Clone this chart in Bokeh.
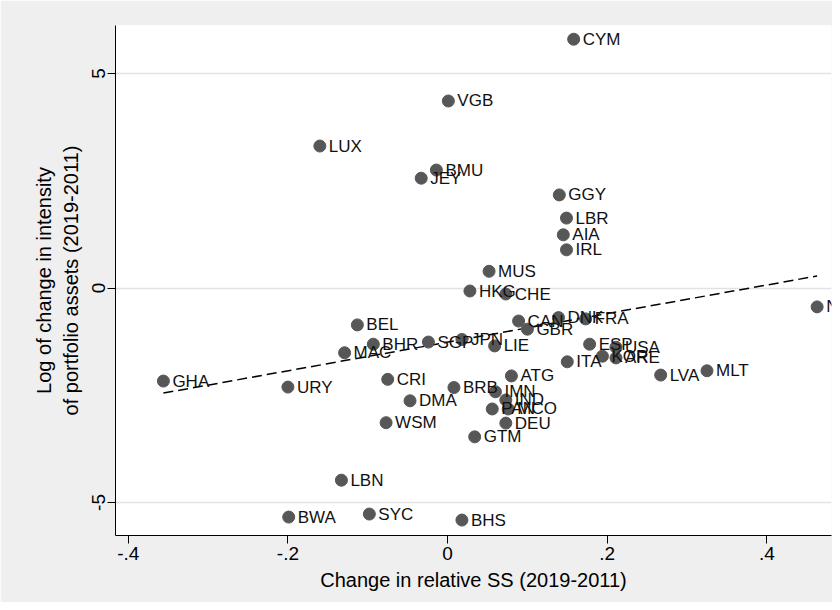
from bokeh.plotting import figure
from bokeh.models import FixedTicker, ColumnDataSource, Range1d
from bokeh.core.properties import value
from bokeh.embed import file_html
from bokeh.resources import INLINE

# ---- data ----
countries = ["CYM", "VGB", "LUX", "BMU", "JEY", "GGY", "LBR", "AIA", "IRL", "MUS",
             "HKG", "CHE", "CAN", "GBR", "DNK", "FRA", "BEL", "BHR", "MAC", "SGP",
             "JPN", "LIE", "ESP", "USA", "KOR", "ARE", "ITA", "LVA", "MLT", "N",
             "GHA", "URY", "CRI", "DMA", "WSM", "BRB", "ATG", "IMN", "IND", "PAN",
             "MCO", "DEU", "GTM", "LBN", "BWA", "SYC", "BHS"]
x_vals = [0.158, 0.001, -0.160, -0.014, -0.033, 0.140, 0.149, 0.145, 0.149, 0.052,
          0.028, 0.073, 0.089, 0.100, 0.139, 0.173, -0.113, -0.093, -0.129, -0.024,
          0.018, 0.059, 0.178, 0.211, 0.194, 0.211, 0.150, 0.267, 0.325, 0.463,
          -0.356, -0.200, -0.075, -0.047, -0.077, 0.008, 0.080, 0.060, 0.073, 0.056,
          0.076, 0.073, 0.034, -0.133, -0.199, -0.098, 0.018]
y_vals = [5.80, 4.36, 3.31, 2.75, 2.56, 2.17, 1.63, 1.24, 0.89, 0.39,
          -0.07, -0.14, -0.77, -0.96, -0.69, -0.72, -0.86, -1.31, -1.51, -1.26,
          -1.20, -1.35, -1.31, -1.38, -1.59, -1.63, -1.72, -2.03, -1.93, -0.44,
          -2.17, -2.31, -2.13, -2.63, -3.14, -2.32, -2.05, -2.42, -2.61, -2.82,
          -2.82, -3.15, -3.47, -4.48, -5.34, -5.27, -5.41]
fit_x = [-0.356, 0.463]
fit_y = [-2.45, 0.28]
x_ticks = [-0.4, -0.2, 0.0, 0.2, 0.4]
x_tick_labels = ["-.4", "-.2", "0", ".2", ".4"]
y_ticks = [-5, 0, 5]
y_tick_labels = ["-5", "0", "5"]

FONT = "Liberation Sans"

p = figure(width=832, height=602, output_backend="svg", toolbar_location=None,
           x_range=Range1d(-0.416, 0.481), y_range=Range1d(-5.77, 6.12),
           min_border_left=115, min_border_right=1, min_border_top=25,
           min_border_bottom=67)
p.background_fill_color = "white"
p.border_fill_color = "#efefef"
p.outline_line_color = None

src = ColumnDataSource(dict(x=x_vals, y=y_vals, c=countries))

p.line(fit_x, fit_y, line_color="black", line_width=1.5, line_dash="10 5")
p.scatter("x", "y", source=src, size=12, fill_color="#575757", line_color="#575757")
p.text("x", "y", text="c", source=src, x_offset=9, text_baseline="middle",
       text_align="left", text_font=value(FONT), text_font_size="17px",
       text_color="#111111")

# grid
p.xgrid.visible = False
p.ygrid.ticker = FixedTicker(ticks=y_ticks)
p.ygrid.grid_line_color = "#e2e2e2"
p.ygrid.grid_line_width = 1.5

# axes
p.xaxis.ticker = FixedTicker(ticks=x_ticks)
p.xaxis.major_label_overrides = {t: l for t, l in zip(x_ticks, x_tick_labels)}
p.yaxis.ticker = FixedTicker(ticks=y_ticks)
p.yaxis.major_label_overrides = {t: l for t, l in zip(y_ticks, y_tick_labels)}
p.yaxis.major_label_orientation = "vertical"

for ax in (p.xaxis, p.yaxis):
    ax.axis_line_color = "black"
    ax.axis_line_width = 1
    ax.major_tick_line_color = "black"
    ax.major_tick_out = 8
    ax.major_tick_in = 0
    ax.minor_tick_line_color = None
    ax.major_label_text_font = FONT
    ax.major_label_text_font_size = "19px"
    ax.major_label_text_color = "black"
    ax.axis_label_text_font = FONT
    ax.axis_label_text_font_size = "20px"
    ax.axis_label_text_font_style = "normal"
    ax.axis_label_text_color = "black"

p.xaxis.axis_label = "Change in relative SS (2019-2011)"
p.yaxis.axis_label = "Log of change in intensity\nof portfolio assets (2019-2011)"
p.xaxis.major_label_standoff = 3
p.yaxis.major_label_standoff = 2
p.xaxis.axis_label_standoff = 6
p.yaxis.axis_label_standoff = 8

open("out.html", "w").write(file_html(p, INLINE))
